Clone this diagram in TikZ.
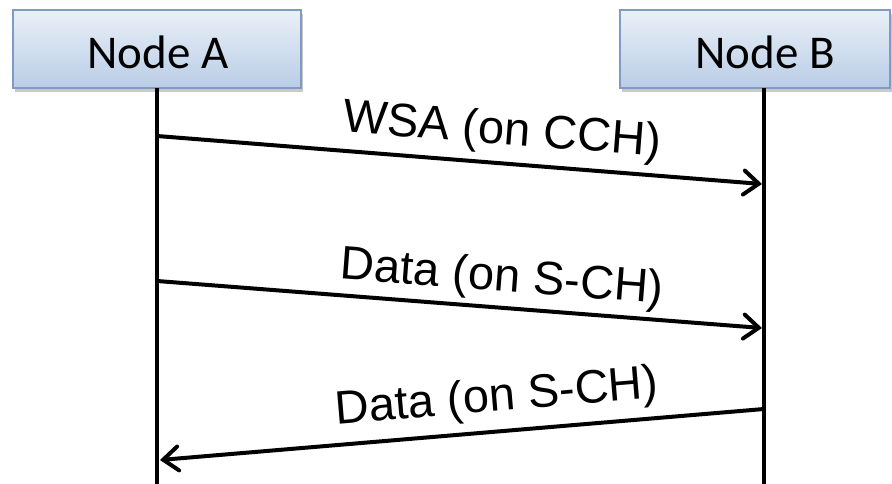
\documentclass[tikz,border=0pt]{standalone}
\usepackage{fontspec}
\usetikzlibrary{arrows.meta,shadows}
\newfontfamily\boxfont{Carlito}
\newfontfamily\lblfont{Liberation Sans}
\definecolor{boxtop}{HTML}{EAF0F8}
\definecolor{boxbot}{HTML}{B9CDE6}
\definecolor{boxline}{HTML}{7F9CC0}
\tikzset{
  actor/.style={draw=boxline, line width=1.5pt, top color=boxtop, bottom color=boxbot,
    drop shadow={shadow xshift=2pt, shadow yshift=-4pt, opacity=0.35, fill=black!60}},
  actortext/.style={font=\boxfont\fontsize{47}{56}\selectfont, inner sep=0pt},
  lifeline/.style={line width=4pt},
  msg/.style={line width=4pt, -{Straight Barb[length=15pt,width=24pt,line cap=round]}},
  msglabel/.style={font=\lblfont\fontsize{47}{56}\selectfont, inner sep=0pt}
}
\begin{document}
\begin{tikzpicture}[x=1pt,y=-1pt]
\useasboundingbox (0,0) rectangle (892,484);
\fill[white] (0,0) rectangle (892,484);
% boxes
\path[actor] (13,10) rectangle (301,88);
\path[actor] (620,10) rectangle (890,88);
\node[actortext] (A) at (158,52) {Node A};
\node[actortext] (B) at (765,52) {Node B};
% lifelines
\coordinate (Atop) at (157,88);
\coordinate (Abot) at (157,484);
\coordinate (Btop) at (764,88);
\coordinate (Bbot) at (764,484);
\draw[lifeline] (Atop) -- (Abot);
\draw[lifeline] (Btop) -- (Bbot);
% messages
\coordinate (a1) at (157,136);
\coordinate (b1) at (762,184);
\coordinate (a2) at (157,281);
\coordinate (b2) at (762,328);
\coordinate (b3) at (764,409);
\coordinate (a3) at (160,460);
\draw[msg] (a1) -- (b1);
\draw[msg] (a2) -- (b2);
\draw[msg] (b3) -- (a3);
\node[msglabel, rotate=-4.4] (l1) at (502,132) {WSA (on CCH)};
\node[msglabel, rotate=-4.4] (l2) at (502,279) {Data (on S-CH)};
\node[msglabel, rotate=4.8] (l3) at (497,399) {Data (on S-CH)};
\end{tikzpicture}
\end{document}
